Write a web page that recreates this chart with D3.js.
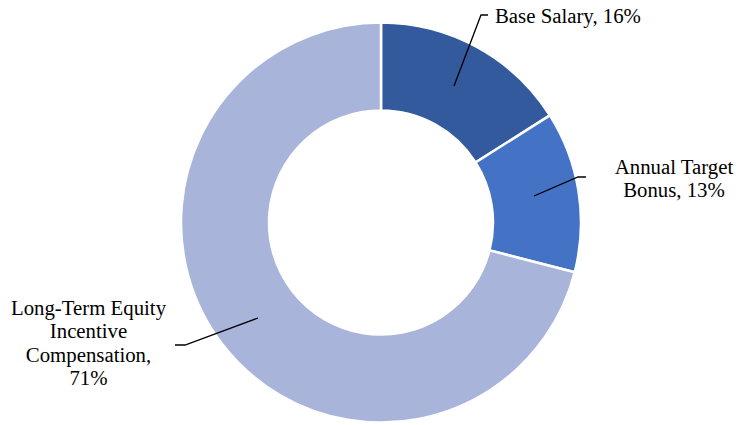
<!DOCTYPE html>
<html><head><meta charset="utf-8">
<script src="https://cdn.jsdelivr.net/npm/d3@7"></script>
<style>body{margin:0;background:#fff}svg{display:block}</style>
</head><body>
<script>
const categories = ["Base Salary", "Annual Target Bonus", "Long-Term Equity Incentive Compensation"];
const values = [16, 13, 71];
const colors = ["#345a9e", "#4472c4", "#a9b4da"];
const labelLines = [["Base Salary, 16%"], ["Annual Target", "Bonus, 13%"], ["Long-Term Equity", "Incentive", "Compensation,", "71%"]];

const W = 738, H = 425, cx = 381, cy = 222.5, R = 200, r = 112;
const svg = d3.select("body").append("svg").attr("width", W).attr("height", H);
const g = svg.append("g").attr("transform", `translate(${cx},${cy})`);
const pie = d3.pie().sort(null).value(d => d)(values);
const arc = d3.arc().innerRadius(r).outerRadius(R);
g.selectAll("path").data(pie).join("path")
  .attr("d", arc).attr("fill", (d, i) => colors[i])
  .attr("stroke", "#fff").attr("stroke-width", 2.5);

const lab = [
  {elbow: [481-cx, 15-cy], end: [488-cx, 15-cy], tx: 495-cx, ty: 23-cy, anchor: "start"},
  {elbow: [578-cx, 177-cy], end: [586-cx, 177-cy], tx: 674-cx, ty: 174-cy, anchor: "middle"},
  {elbow: [185-cx, 345-cy], end: [175-cx, 345-cy], tx: 88.5-cx, ty: 315-cy, anchor: "middle"}
];
const startPts = [[454-cx, 86-cy], [534-cx, 196-cy], [258-cx, 318-cy]];
lab.forEach((L, i) => {
  g.append("polyline")
    .attr("points", [startPts[i], L.elbow, L.end].map(p => p.join(",")).join(" "))
    .attr("fill", "none").attr("stroke", "#000").attr("stroke-width", 1.3);
  const t = g.append("text").attr("text-anchor", L.anchor)
    .attr("font-family", "'Liberation Serif','Times New Roman',serif")
    .attr("font-size", 20.8).attr("fill", "#000");
  labelLines[i].forEach((s, j) => {
    t.append("tspan").attr("x", L.tx).attr("y", L.ty + j * 23.4).text(s);
  });
});
</script>
</body></html>
